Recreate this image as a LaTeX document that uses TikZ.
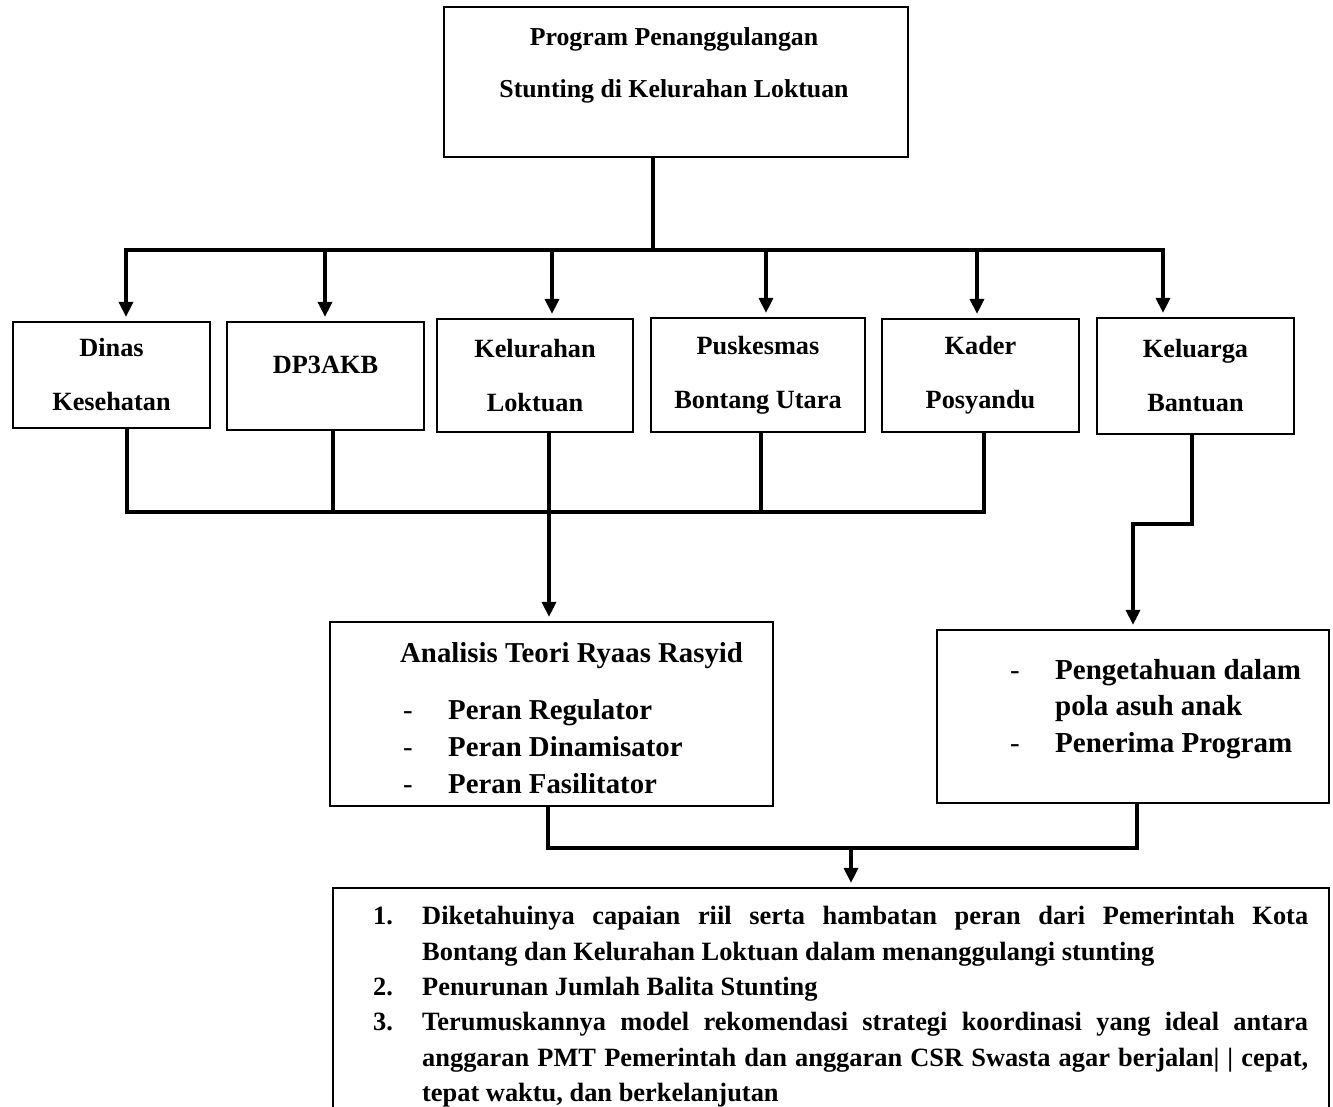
\documentclass[tikz,border=0pt]{standalone}
\usepackage{fontspec}
\setmainfont{Liberation Serif}
\usetikzlibrary{positioning, arrows.meta}

\tikzset{
    panel/.style={draw, line width=2.2pt, inner sep=0pt},
    unit/.style={panel, minimum width=197pt, align=center,
        font=\bfseries\fontsize{26.3}{54}\selectfont},
    bar/.style={line width=3.3pt, line cap=rect},
    feed/.style={-{Triangle[width=14pt,length=15pt]}, shorten >=4pt},
    lbl/.style={inner sep=0pt, anchor=base west},
    midtxt/.style={lbl, font=\bfseries\fontsize{28.8}{30}\selectfont},
    righttxt/.style={lbl, font=\bfseries\fontsize{29}{30}\selectfont},
    lowtxt/.style={lbl, font=\bfseries\fontsize{26.4}{28}\selectfont},
    hyph/.style={lbl, font=\fontsize{28.8}{30}\selectfont}
}

\begin{document}
\begin{tikzpicture}[x=1pt, y=-1pt]
\useasboundingbox (0,0) rectangle (1333,1107);
\clip (0,0) rectangle (1333,1107);

% judul
\node[panel, minimum width=464pt, minimum height=150pt] (program) at (676,82) {};
\node[inner sep=0pt, align=center, font=\bfseries\fontsize{25.8}{52}\selectfont]
    (programtxt) at (674,65) {Program Penanggulangan\\Stunting di Kelurahan Loktuan};

% aktor
\node[unit, minimum height=106pt] (dinas) at (111.5,375) {Dinas\\Kesehatan};
\node[unit, minimum height=108pt, text depth=22pt] (dp3akb) at (325.5,376) {DP3AKB};
\node[unit, minimum width=196pt, minimum height=113pt] (kelurahan) at (535,375.5) {Kelurahan\\Loktuan};
\node[unit, minimum width=214pt, minimum height=114pt] (puskesmas) at (758,375) {Puskesmas\\Bontang Utara};
\node[unit, minimum height=113pt] (kader) at (980.5,375.5) {Kader\\Posyandu};
\node[unit, minimum height=116pt] (keluarga) at (1195.5,376) {Keluarga\\Bantuan};

% analisis
\node[panel, minimum width=443pt, minimum height=184pt] (analisis) at (551.5,714) {};
\node[midtxt] (teori) at (400,662) {Analisis Teori Ryaas Rasyid};
\node[hyph] (h1) at (403,719) {-};
\node[hyph] (h2) at (403,756) {-};
\node[hyph] (h3) at (403,793) {-};
\node[midtxt] (regulator) at (448,719) {Peran Regulator};
\node[midtxt] (dinamisator) at (448,756) {Peran Dinamisator};
\node[midtxt] (fasilitator) at (448,793) {Peran Fasilitator};

% pola asuh
\node[panel, minimum width=392pt, minimum height=173pt] (pola) at (1133,716.5) {};
\node[hyph] (h4) at (1010,679) {-};
\node[hyph] (h5) at (1010,752) {-};
\node[righttxt] (pengetahuan) at (1055,679) {Pengetahuan dalam};
\node[righttxt] (asuh) at (1055,715) {pola asuh anak};
\node[righttxt] (penerima) at (1055,752) {Penerima Program};

% hasil
\node[panel, minimum width=996pt, minimum height=232pt] (capaian) at (831,1004) {};
\node[lowtxt] (n1) at (373,924) {1.};
\node[lowtxt] (n2) at (373,995) {2.};
\node[lowtxt] (n3) at (373,1030) {3.};
\node[lowtxt] (r1) at (422,924) {\makebox[886pt][s]{Diketahuinya capaian riil serta hambatan peran dari Pemerintah Kota}};
\node[lowtxt] (r2) at (422,960) {Bontang dan Kelurahan Loktuan dalam menanggulangi stunting};
\node[lowtxt] (r3) at (422,995) {Penurunan Jumlah Balita Stunting};
\node[lowtxt] (r4) at (422,1030) {\makebox[886pt][s]{Terumuskannya model rekomendasi strategi koordinasi yang ideal antara}};
\node[lowtxt] (r5) at (422,1066) {\makebox[886pt][s]{anggaran PMT Pemerintah dan anggaran CSR Swasta agar berjalan| | cepat,}};
\node[lowtxt] (r6) at (422,1101) {tepat waktu, dan berkelanjutan};

\coordinate (top) at (653,250);
\coordinate (t1) at (126,250);
\coordinate (t2) at (325,254);
\coordinate (t3) at (552,250);
\coordinate (t4) at (766,250);
\coordinate (t5) at (977,254);
\coordinate (t6) at (1163,250);
\coordinate (b1) at (127,512);
\coordinate (b2) at (333,512);
\coordinate (b3) at (549,512);
\coordinate (b4) at (761,512);
\coordinate (b5) at (984,512);
\coordinate (k1) at (1192,524);
\coordinate (k2) at (1133,524);
\coordinate (m1) at (548,848);
\coordinate (m2) at (1137,848);
\coordinate (m3) at (851,848);

\draw[bar]
    (top |- program.south) -- (top)
    (t1) -- (t6)
    (dinas.south -| b1) -- (b1)
    (dp3akb.south -| b2) -- (b2)
    (kelurahan.south -| b3) -- (b3)
    (puskesmas.south -| b4) -- (b4)
    (kader.south -| b5) -- (b5)
    (b1) -- (b5)
    (keluarga.south -| k1) -- (k1) -- (k2)
    (analisis.south -| m1) -- (m1) -- (m2) -- (m2 |- pola.south)
    ;

\draw[bar]
    (t1) edge[feed] (t1 |- dinas.north)
    (t2) edge[feed] (t2 |- dp3akb.north)
    (t3) edge[feed] (t3 |- kelurahan.north)
    (t4) edge[feed] (t4 |- puskesmas.north)
    (t5) edge[feed] (t5 |- kader.north)
    (t6) edge[feed] (t6 |- keluarga.north)
    (b3) edge[feed] (b3 |- analisis.north)
    (k2) edge[feed] (k2 |- pola.north)
    (m3) edge[feed] (m3 |- capaian.north)
    ;
\end{tikzpicture}
\end{document}
